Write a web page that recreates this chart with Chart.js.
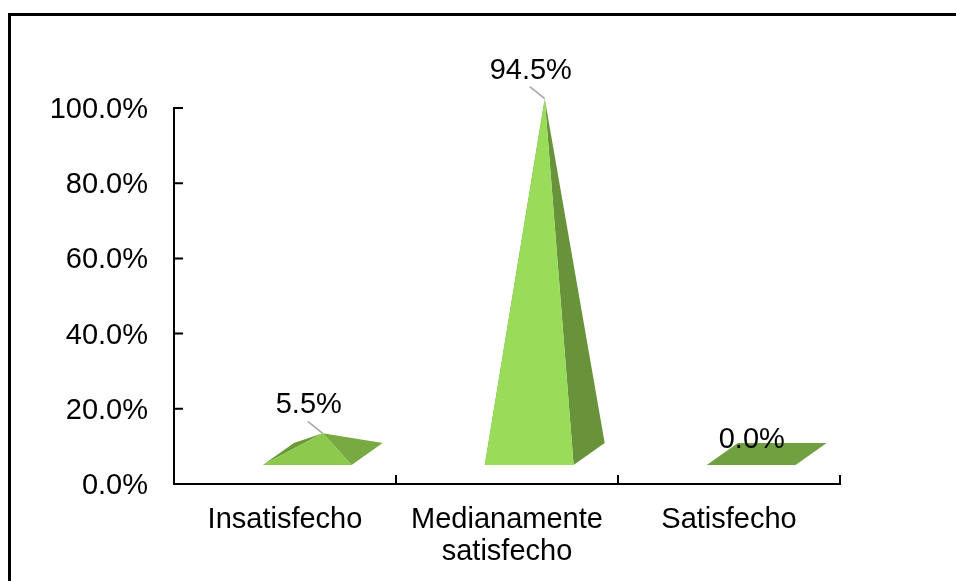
<!DOCTYPE html>
<html>
<head>
<meta charset="utf-8">
<script src="https://cdn.jsdelivr.net/npm/chart.js@4"></script>
<style>
    html, body { margin: 0; padding: 0; background: #fff; overflow: hidden; }
    #wrap { position: relative; width: 956px; height: 581px; }
    #frame {
        position: absolute; left: 8px; top: 13px; width: 2000px; height: 2000px;
        border-top: 3px solid #000; border-left: 3px solid #000; pointer-events: none;
    }
</style>
</head>
<body>
<div id="wrap">
    <canvas id="chart" width="956" height="581"></canvas>
    <div id="frame"></div>
</div>
<script>
// Datos del gráfico
const categorias = ['Insatisfecho', ['Medianamente', 'satisfecho'], 'Satisfecho'];
const porcentajes = [5.5, 94.5, 0.0];
const ticksY = [0, 20, 40, 60, 80, 100];

const FONT = '"Liberation Sans", Arial, sans-serif';

// Colores de las caras (pirámide baja -> pirámide alta)
const frenteBajo = [140, 200, 75], frenteAlto = [152, 220, 90];
const derechaBajo = [121, 171, 67], derechaAlto = [104, 147, 58];
const izquierda = 'rgb(106,154,55)';
const colorPiso = '#70a040';

function mezcla(a, b, t) {
    return 'rgb(' + a.map((c, i) => Math.round(c + (b[i] - c) * t)).join(',') + ')';
}

// Dibuja pirámides 3D sobre las posiciones de las barras
const piramides = {
    id: 'piramides',
    afterDatasetsDraw(chart) {
        const ctx = chart.ctx;
        const meta = chart.getDatasetMeta(0);
        const xs = chart.scales.x;
        const ys = chart.scales.y;
        const cw = xs.width / categorias.length;
        const y0 = ys.getPixelForValue(0);
        const frontY = y0 - 19;
        const dx = cw * 0.14, dy = -22;

        meta.data.forEach((bar, i) => {
            const v = porcentajes[i];
            const fc = bar.x + cw * 0.1;
            const hw = cw * 0.2;
            const FL = [fc - hw, frontY], FR = [fc + hw, frontY];
            const BL = [FL[0] + dx, frontY + dy], BR = [FR[0] + dx, frontY + dy];
            const apex = [fc + dx / 2, bar.y - 19 + dy / 2];
            const t = Math.min(1, (y0 - bar.y) / 300);

            const poly = (pts, color) => {
                ctx.beginPath();
                ctx.moveTo(pts[0][0], pts[0][1]);
                pts.slice(1).forEach(p => ctx.lineTo(p[0], p[1]));
                ctx.closePath();
                ctx.fillStyle = color;
                ctx.fill();
            };

            ctx.save();
            if (v > 0) {
                poly([FL, BL, apex], izquierda);
                poly([FR, BR, apex], mezcla(derechaBajo, derechaAlto, t));
                poly([FL, FR, apex], mezcla(frenteBajo, frenteAlto, t));
            } else {
                poly([FL, FR, BR, BL], colorPiso);
            }

            // Etiqueta de datos
            let lx, ly;
            if (v > 0) {
                lx = apex[0] - 14;
                ly = apex[1] - 28;
                ctx.strokeStyle = '#a6a6a6';
                ctx.lineWidth = 1.5;
                ctx.beginPath();
                ctx.moveTo(apex[0] - 15, apex[1] - 12);
                ctx.lineTo(apex[0], apex[1]);
                ctx.stroke();
            } else {
                lx = apex[0] - 15;
                ly = apex[1] - 14;
            }
            ctx.fillStyle = '#000';
            ctx.font = '29px ' + FONT;
            ctx.textAlign = 'center';
            ctx.textBaseline = 'middle';
            ctx.fillText(v.toFixed(1) + '%', lx, ly);
            ctx.restore();
        });
    },
    afterDraw(chart) {
        // Marcas de graduación hacia dentro
        const ctx = chart.ctx;
        const xs = chart.scales.x;
        const ys = chart.scales.y;
        const cw = xs.width / categorias.length;
        ctx.save();
        ctx.strokeStyle = '#000';
        ctx.lineWidth = 2;
        ctx.beginPath();
        ys.ticks.forEach((t, i) => {
            if (t.value === 0) return;
            const y = ys.getPixelForTick(i);
            ctx.moveTo(xs.left, y);
            ctx.lineTo(xs.left + 9, y);
        });
        for (let i = 1; i <= categorias.length; i++) {
            const x = xs.left + i * cw;
            ctx.moveTo(x, ys.bottom);
            ctx.lineTo(x, ys.bottom - 9);
        }
        ctx.stroke();
        ctx.restore();
    }
};

new Chart(document.getElementById('chart'), {
    type: 'bar',
    data: {
        labels: categorias,
        datasets: [{
            data: porcentajes,
            backgroundColor: 'rgba(0,0,0,0)',
            borderWidth: 0
        }]
    },
    options: {
        responsive: false,
        animation: false,
        devicePixelRatio: 1,
        layout: { padding: { left: 0, top: 108, right: 116, bottom: 0 } },
        plugins: { legend: { display: false }, tooltip: { enabled: false } },
        scales: {
            x: {
                grid: { display: false, drawTicks: false },
                border: { display: true, color: '#000', width: 2 },
                ticks: {
                    color: '#000',
                    padding: 20,
                    maxRotation: 0,
                    font: { family: FONT, size: 29, lineHeight: 1.1 }
                },
                afterFit(scale) { scale.height = 97; }
            },
            y: {
                min: 0,
                max: 100,
                afterBuildTicks(scale) { scale.ticks = ticksY.map(v => ({ value: v })); },
                grid: { display: false, drawTicks: false },
                border: { display: true, color: '#000', width: 2 },
                ticks: {
                    color: '#000',
                    padding: 26,
                    labelOffset: 2,
                    font: { family: FONT, size: 29 },
                    callback: v => v.toFixed(1) + '%'
                },
                afterFit(scale) { scale.width = 174; }
            }
        }
    },
    plugins: [piramides]
});
</script>
</body>
</html>
